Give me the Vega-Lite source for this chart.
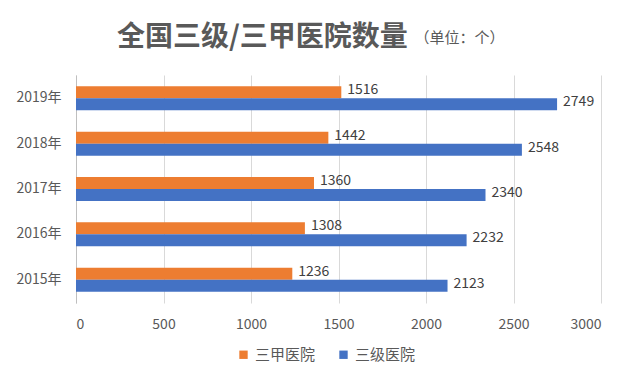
{
  "$schema": "https://vega.github.io/schema/vega-lite/v6.json",
  "width": 525,
  "height": 228,
  "autosize": {"type": "none"},
  "padding": {"left": 76, "top": 75, "right": 40, "bottom": 82},
  "background": "white",
  "title": {
    "text": "全国三级/三甲医院数量",
    "anchor": "start",
    "frame": "group",
    "dx": 41,
    "offset": -22,
    "font": "Noto Sans CJK SC",
    "fontSize": 28,
    "fontWeight": "bold",
    "color": "#595959"
  },
  "config": {
    "view": {"stroke": null},
    "font": "Noto Sans CJK SC"
  },
  "data": {
    "values": [
      {"year": "2019年", "type": "三甲医院", "value": 1516},
      {"year": "2019年", "type": "三级医院", "value": 2749},
      {"year": "2018年", "type": "三甲医院", "value": 1442},
      {"year": "2018年", "type": "三级医院", "value": 2548},
      {"year": "2017年", "type": "三甲医院", "value": 1360},
      {"year": "2017年", "type": "三级医院", "value": 2340},
      {"year": "2016年", "type": "三甲医院", "value": 1308},
      {"year": "2016年", "type": "三级医院", "value": 2232},
      {"year": "2015年", "type": "三甲医院", "value": 1236},
      {"year": "2015年", "type": "三级医院", "value": 2123}
    ]
  },
  "encoding": {
    "y": {
      "field": "year",
      "type": "nominal",
      "sort": "descending",
      "scale": {"paddingInner": 0.47, "paddingOuter": 0.25},
      "axis": {
        "title": "（单位：个）",
        "titleAngle": 0,
        "titleX": 338,
        "titleY": -38,
        "titleAlign": "left",
        "titleBaseline": "middle",
        "titleFontSize": 15,
        "titleFontWeight": "normal",
        "titleColor": "#595959",
        "labelFontSize": 14,
        "labelColor": "#595959",
        "labelPadding": 15,
        "ticks": false,
        "domainColor": "#bfbfbf",
        "grid": false
      }
    },
    "yOffset": {"field": "type", "type": "nominal", "sort": ["三甲医院", "三级医院"]},
    "x": {
      "field": "value",
      "type": "quantitative",
      "scale": {"domain": [0, 3000], "nice": false},
      "axis": {
        "title": null,
        "values": [0, 500, 1000, 1500, 2000, 2500, 3000],
        "format": "d",
        "labelFontSize": 14,
        "labelColor": "#595959",
        "labelPadding": 14,
        "ticks": false,
        "domain": false,
        "grid": true,
        "gridColor": "#d9d9d9"
      }
    }
  },
  "layer": [
    {
      "mark": {"type": "bar"},
      "encoding": {
        "color": {
          "field": "type",
          "type": "nominal",
          "sort": ["三甲医院", "三级医院"],
          "scale": {"domain": ["三甲医院", "三级医院"], "range": ["#ED7D31", "#4472C4"]},
          "legend": {
            "title": null,
            "orient": "none",
            "direction": "horizontal",
            "legendX": 160,
            "legendY": 272,
            "symbolType": "square",
            "symbolSize": 70,
            "labelFontSize": 15,
            "labelColor": "#595959",
            "columnPadding": 20,
            "labelOffset": 4
          }
        }
      }
    },
    {
      "mark": {"type": "text", "align": "left", "baseline": "middle", "dx": 6, "dy": -2, "fontSize": 14, "color": "#404040"},
      "encoding": {
        "text": {"field": "value", "type": "quantitative", "format": "d"}
      }
    }
  ]
}
